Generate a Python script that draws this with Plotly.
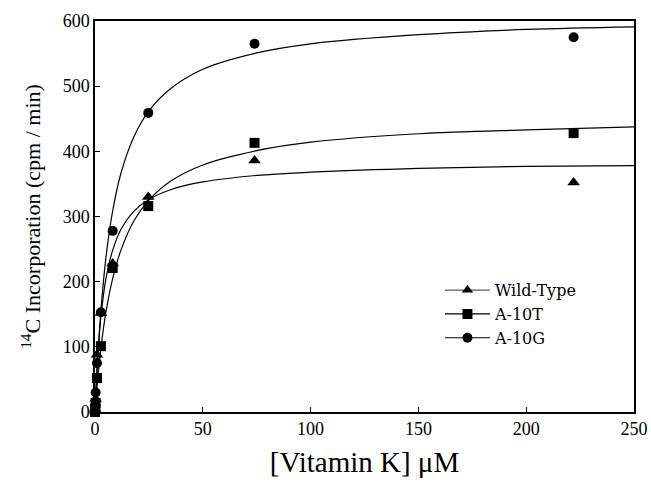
import plotly.graph_objects as go

# Vitamin K concentrations (uM), 3-fold dilution series
conc = [0.034, 0.1, 0.3, 0.91, 2.74, 8.2, 24.7, 74, 222]

wt_y = [2, 5, 20, 88, 152, 228, 330, 386, 352]
a10t_y = [0, 5, 14, 52, 101, 221, 316, 413, 428]
a10g_y = [3, 10, 30, 75, 153, 278, 459, 565, 575]

# fitted curves
curve_x = [0, 0.5, 1, 2, 3, 5, 8, 12, 18, 25, 35, 50, 75, 100, 150, 200, 250]
wt_curve = [0, 38.5, 70, 118, 154, 203, 246, 280, 308, 326, 341, 353, 363, 368, 374, 377, 378]
a10t_curve = [0, 21.7, 41.4, 75.8, 105, 152, 202, 248, 293, 325, 354, 379, 401, 414, 427, 433, 437.5]
a10g_curve = [0, 35.9, 67.8, 122, 166, 235, 305, 366, 422, 462, 496, 526, 551, 565, 579, 587, 591]

series = [
    ("Wild-Type", wt_y, wt_curve, "triangle-up", 0.8),
    ("A-10T", a10t_y, a10t_curve, "square", 1.3),
    ("A-10G", a10g_y, a10g_curve, "circle", 1.1),
]

FONT = "Liberation Serif"
fig = go.Figure()
for name, ys, cy, sym, lw in series:
    fig.add_trace(go.Scatter(x=curve_x, y=cy, mode="lines", line=dict(color="black", width=1.2, shape="spline"),
                             showlegend=False, hoverinfo="skip"))
    fig.add_trace(go.Scatter(x=conc, y=ys, mode="markers", cliponaxis=False,
                             marker=dict(symbol=sym, color="black", size=10 if sym != "triangle-up" else 11),
                             showlegend=False, name=name))
    fig.add_trace(go.Scatter(x=[None], y=[None], mode="lines+markers", name=name,
                             line=dict(color="black", width=lw),
                             marker=dict(symbol=sym, color="black", size=10)))

axis_common = dict(showline=True, linecolor="black", linewidth=1.5, mirror=True, ticks="inside",
                   ticklen=5, tickcolor="black", showgrid=False, zeroline=False, automargin=False,
                   tickfont=dict(family=FONT, size=18, color="black"))
fig.update_xaxes(range=[0, 250], tickvals=[0, 50, 100, 150, 200, 250],
                 title=dict(text="[Vitamin K] μM", font=dict(family=FONT, size=29, color="black"), standoff=13),
                 **axis_common)
fig.update_yaxes(range=[0, 600], tickvals=[0, 100, 200, 300, 400, 500, 600],
                 title=dict(text="<sup>14</sup>C Incorporation (cpm / min)", font=dict(family=FONT, size=22, color="black"), standoff=16),
                 **axis_common)
fig.update_layout(
    width=651, height=483,
    margin=dict(l=95, r=17, t=21, b=71, autoexpand=False),
    plot_bgcolor="white", paper_bgcolor="white",
    legend=dict(x=0.64, y=0.355, xanchor="left", yanchor="top", bgcolor="rgba(0,0,0,0)",
                font=dict(family="DejaVu Serif", size=16, color="black"), tracegroupgap=0, itemwidth=45),
    showlegend=True,
)
fig.write_html("out.html", config={"displayModeBar": False},
               post_script="document.body.style.margin='0';document.body.style.overflow='hidden';")
